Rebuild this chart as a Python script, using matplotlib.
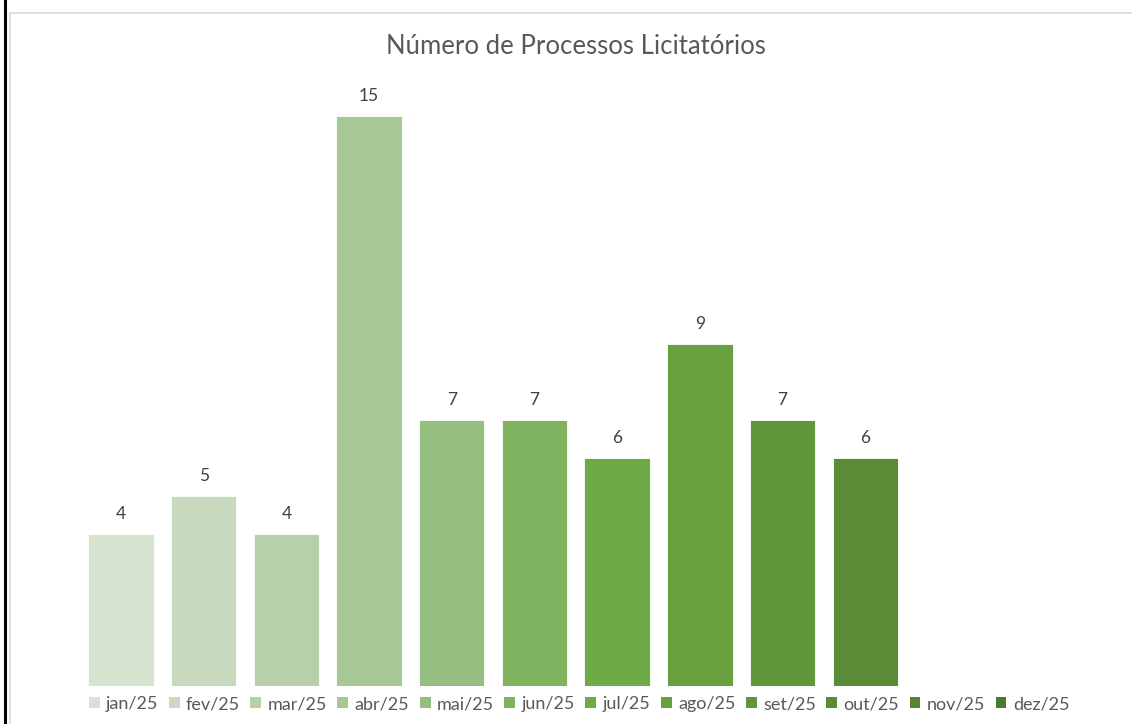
import matplotlib.pyplot as plt
from matplotlib.lines import Line2D
from matplotlib.patches import Patch
import numpy as np

plt.rcParams['font.family'] = ['Lato', 'DejaVu Sans']

months = ['jan/25', 'fev/25', 'mar/25', 'abr/25', 'mai/25', 'jun/25',
          'jul/25', 'ago/25', 'set/25', 'out/25', 'nov/25', 'dez/25']
counts = [4, 5, 4, 15, 7, 7, 6, 9, 7, 6, np.nan, np.nan]
colors = ['#D6E3CE', '#C7DAC0', '#B7CFAA', '#A7C895', '#96BE81', '#7FB35F',
          '#6EAA45', '#67A03F', '#5F973A', '#5A8C38', '#538534', '#4A7A2E']

W, H = 1132, 724
fig = plt.figure(figsize=(W / 100, H / 100), dpi=100)
ax = fig.add_axes([79.6 / W, 38 / H, (1072 - 79.6) / W, 608 / H])

x = np.arange(len(months))
ax.bar(x, counts, width=0.79, color=colors, edgecolor='white', linewidth=0.6)
for xi, v in zip(x, counts):
    if not np.isnan(v):
        ax.text(xi, v + 0.32, f'{int(v)}', ha='center', va='bottom',
                fontsize=12.5, color='#404040')

ax.set_xlim(-0.5, len(months) - 0.5)
ax.set_ylim(0, 16)
ax.axis('off')

fig.text(576 / W, 1 - 46 / H, 'Número de Processos Licitatórios',
         ha='center', va='center', fontsize=18.5, color='#595959')

handles = [Patch(facecolor=c, edgecolor='none') for c in colors]
fig.legend(handles, months, loc='center', bbox_to_anchor=(579 / W, 20 / H),
           ncol=12, frameon=False, fontsize=13, labelcolor='#595959',
           handlelength=0.6, handleheight=0.6, handletextpad=0.35,
           columnspacing=0.58)

# frame lines
fig.add_artist(Line2D([5 / W, 5 / W], [0, 1], color='black', lw=2.2))
fig.add_artist(Line2D([10 / W, 10 / W], [0, 1 - 12.5 / H], color='#D9D9D9', lw=1.2))
fig.add_artist(Line2D([10 / W, 1], [1 - 12.5 / H, 1 - 12.5 / H], color='#D9D9D9', lw=1.2))

fig.savefig('out.png', dpi=100, facecolor='white')
